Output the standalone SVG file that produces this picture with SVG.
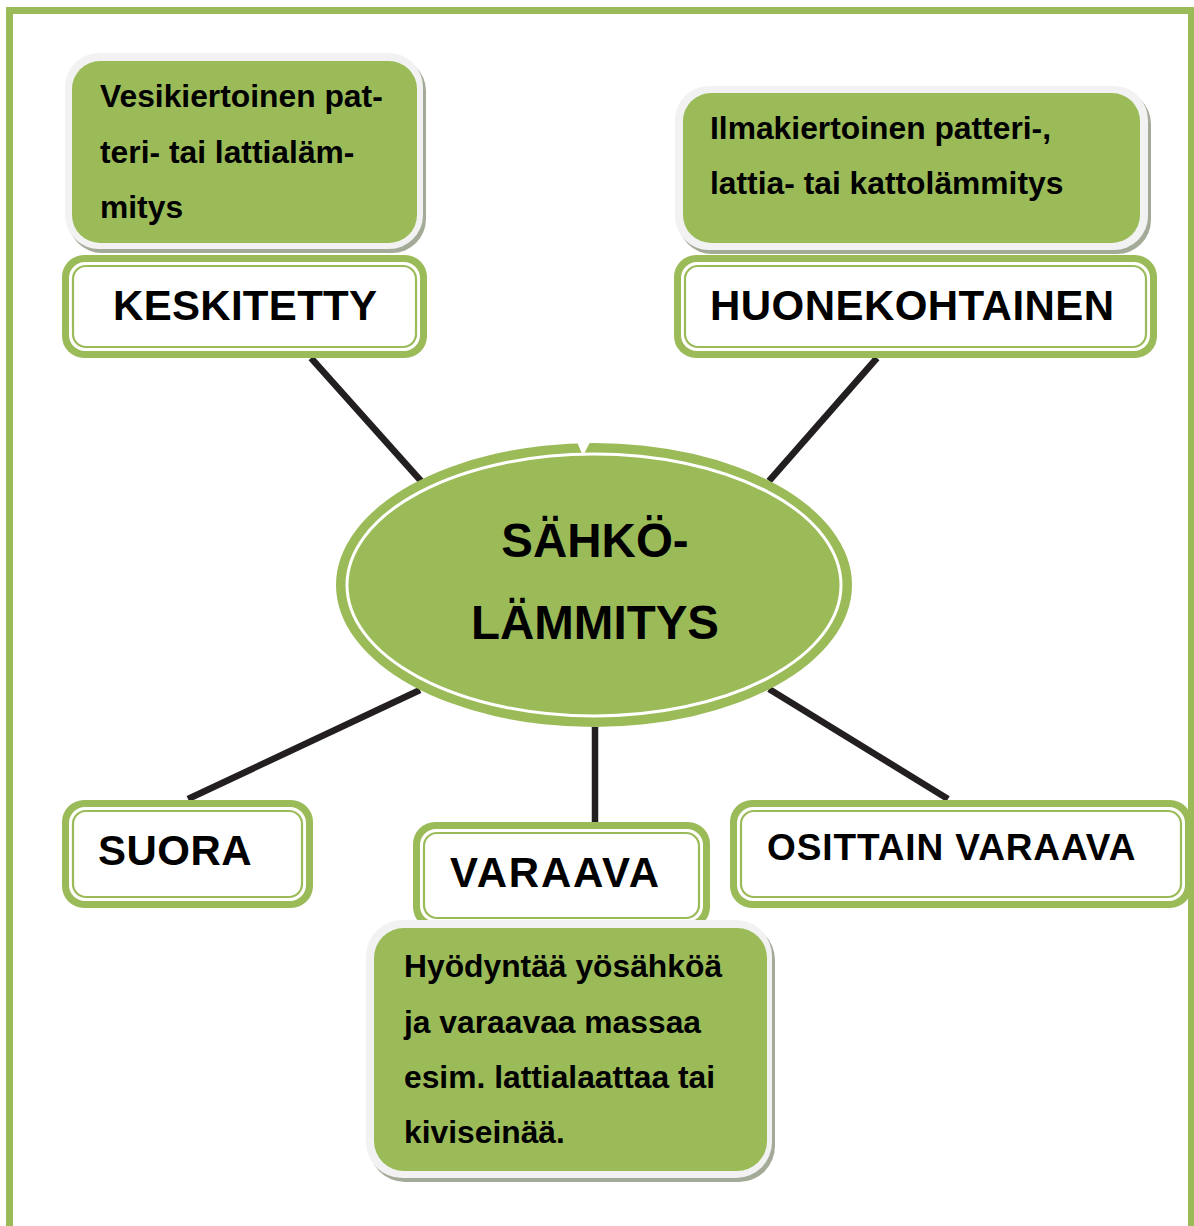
<svg xmlns="http://www.w3.org/2000/svg" width="1194" height="1226" viewBox="0 0 1194 1226">
  <style>
    .frame{fill:none;stroke:#9bbb59;stroke-width:7}
    .lbo{fill:#9bbb59}
    .lbi{fill:#ffffff}
    .lbl{fill:none;stroke:#9bbb59;stroke-width:2.2}
    .cshadow{fill:#a4aa98}
    .couter{fill:#f2f2f2}
    .cgreen{fill:#9bbb59}
    .conn line{stroke:#231f20;stroke-width:6.5;stroke-linecap:butt}
    text{font-family:"Liberation Sans",Arial,sans-serif;font-weight:bold;fill:#000}
    .lab{font-size:42px}
    .lab2{font-size:37px;letter-spacing:0.9px}
    .desc{font-size:31.8px}
    .main{font-size:47.5px}
  </style>

  <rect class="frame" x="9.5" y="10.5" width="1182" height="1300"/>

  <g id="connectors" class="conn">
    <line x1="311" y1="358" x2="421" y2="481"/>
    <line x1="877" y1="358" x2="769" y2="481"/>
    <line x1="188" y1="799" x2="420" y2="690"/>
    <line x1="595" y1="727" x2="595" y2="823"/>
    <line x1="948" y1="799" x2="769" y2="689"/>
  </g>

  <g id="center">
    <ellipse cx="594" cy="585" rx="258" ry="142" fill="#9bbb59"/>
    <ellipse cx="594" cy="585" rx="247" ry="131" fill="none" stroke="#ffffff" stroke-width="3"/>
    <path d="M577 442 L590 442 L583 456 Z" fill="#ffffff"/>
    <text class="main" x="595" y="557" text-anchor="middle">SÄHKÖ-</text>
    <text class="main" x="595" y="639" text-anchor="middle">LÄMMITYS</text>
  </g>

  <g id="desc-keskitetty">
    <rect class="cshadow" x="68" y="57" width="358" height="196" rx="34"/>
    <rect class="couter" x="65" y="53" width="358" height="196" rx="34"/>
    <rect class="cgreen" x="72" y="61" width="345" height="182" rx="28"/>
    <text class="desc" x="100" y="107">Vesikiertoinen pat-</text>
    <text class="desc" x="100" y="163">teri- tai lattialäm-</text>
    <text class="desc" x="100" y="218">mitys</text>
  </g>

  <g id="keskitetty">
    <rect class="lbo" x="62" y="255" width="365" height="103" rx="22"/>
    <rect class="lbi" x="69" y="262" width="351" height="89" rx="16"/>
    <rect class="lbl" x="73" y="266" width="343" height="81" rx="13"/>
    <text class="lab" x="113" y="320" letter-spacing="0.3">KESKITETTY</text>
  </g>

  <g id="desc-huonekohtainen">
    <rect class="cshadow" x="678" y="90" width="473" height="164" rx="34"/>
    <rect class="couter" x="675" y="86" width="473" height="164" rx="34"/>
    <rect class="cgreen" x="683" y="93" width="457" height="150" rx="28"/>
    <text class="desc" x="710" y="139">Ilmakiertoinen patteri-,</text>
    <text class="desc" x="710" y="194">lattia- tai kattolämmitys</text>
  </g>

  <g id="huonekohtainen">
    <rect class="lbo" x="674" y="255" width="483" height="103" rx="22"/>
    <rect class="lbi" x="681" y="262" width="469" height="89" rx="16"/>
    <rect class="lbl" x="685" y="266" width="461" height="81" rx="13"/>
    <text class="lab" x="710" y="320" letter-spacing="0.45">HUONEKOHTAINEN</text>
  </g>

  <g id="suora">
    <rect class="lbo" x="62" y="800" width="251" height="108" rx="22"/>
    <rect class="lbi" x="69" y="807" width="237" height="94" rx="16"/>
    <rect class="lbl" x="73" y="811" width="229" height="86" rx="13"/>
    <text class="lab" x="98" y="865" letter-spacing="0.5">SUORA</text>
  </g>

  <g id="varaava">
    <rect class="lbo" x="413" y="822" width="297" height="107" rx="22"/>
    <rect class="lbi" x="420" y="829" width="283" height="93" rx="16"/>
    <rect class="lbl" x="424" y="833" width="275" height="85" rx="13"/>
    <text class="lab" x="450" y="887" letter-spacing="1.8">VARAAVA</text>
  </g>

  <g id="osittain-varaava">
    <rect class="lbo" x="730" y="800" width="462" height="108" rx="22"/>
    <rect class="lbi" x="737" y="807" width="448" height="94" rx="16"/>
    <rect class="lbl" x="741" y="811" width="440" height="86" rx="13"/>
    <text class="lab2" x="767" y="860">OSITTAIN VARAAVA</text>
  </g>

  <g id="desc-varaava">
    <rect class="cshadow" x="369" y="924" width="406" height="258" rx="36"/>
    <rect class="couter" x="366" y="920" width="406" height="258" rx="36"/>
    <rect class="cgreen" x="374" y="928" width="393" height="243" rx="30"/>
    <text class="desc" x="404" y="977">Hyödyntää yösähköä</text>
    <text class="desc" x="404" y="1033">ja varaavaa massaa</text>
    <text class="desc" x="404" y="1088">esim. lattialaattaa tai</text>
    <text class="desc" x="404" y="1143">kiviseinää.</text>
  </g>
</svg>
